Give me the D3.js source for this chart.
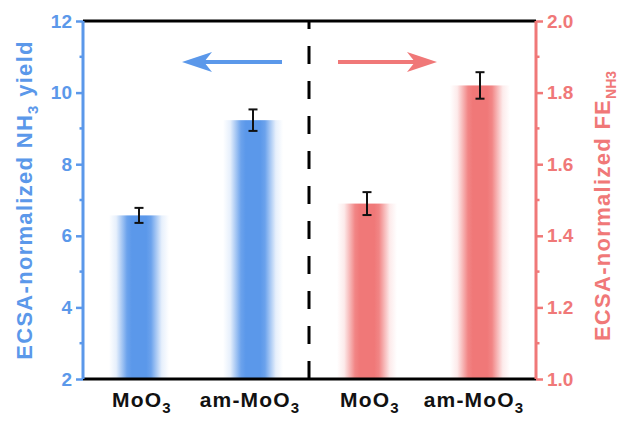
<!DOCTYPE html>
<html>
<head>
<meta charset="utf-8">
<script src="https://cdn.jsdelivr.net/npm/d3@7"></script>
<style>
  body { margin: 0; background: #fff; }
  text { font-family: "Liberation Sans", Arial, sans-serif; font-weight: bold; }
</style>
</head>
<body>
<div id="chart"></div>
<script>
// data
const categories = ['MoO3', 'am-MoO3'];
const yieldValues = [6.57, 9.23];
const yieldErrors = [0.21, 0.3];
const feValues = [1.49, 1.82];
const feErrors = [0.032, 0.037];
const leftTicks = [2, 4, 6, 8, 10, 12];
const rightTicks = [1.0, 1.2, 1.4, 1.6, 1.8, 2.0];

const width = 622, height = 423;
const margin = {top: 21, right: 86, bottom: 44, left: 83};
const blue = '#5b98ea', red = '#f07878';

const svg = d3.select('#chart').append('svg')
	.attr('width', width)
	.attr('height', height);

const x0 = margin.left, x1 = width - margin.right;
const y0 = height - margin.bottom, y1 = margin.top;

// four slots: two left (yield), two right (FE)
const x = d3.scaleBand()
	.domain(['L0', 'L1', 'R0', 'R1'])
	.range([x0, x1])
	.paddingOuter(0.2);
const xs = {L0: 139, L1: 253, R0: 367, R1: 480};     // measured bar centres
const xl = {L0: 142, L1: 250, R0: 370, R1: 474};     // measured label centres

const yL = d3.scaleLinear().domain([2, 12]).range([y0, y1]);
const yR = d3.scaleLinear().domain([1.0, 2.0]).range([y0, y1]);

// gradients for the fuzzy bars
const defs = svg.append('defs');
function grad(id, col) {
	let g = defs.append('linearGradient').attr('id', id)
		.attr('x1', '0%').attr('x2', '100%').attr('y1', '0%').attr('y2', '0%');
	[[0, 0], [0.12, 0.15], [0.3, 0.9], [0.38, 1], [0.62, 1], [0.7, 0.9], [0.88, 0.15], [1, 0]]
		.forEach(s => g.append('stop').attr('offset', s[0]).attr('stop-color', col).attr('stop-opacity', s[1]));
}
grad('gBlue', blue);
grad('gRed', red);

const barW = 60;
function centerOf(side, i, table) {
	let key = side + i;
	return table[key] !== undefined ? table[key] : x(key) + x.bandwidth() / 2;
}

function drawBars(side, values, errors, y, fill) {
	values.forEach((v, i) => {
		let cx = centerOf(side, i, xs);
		svg.append('rect')
			.attr('x', cx - barW / 2)
			.attr('y', y(v))
			.attr('width', barW)
			.attr('height', y.range()[0] - y(v))
			.attr('fill', 'url(#' + fill + ')');
		let e = svg.append('g').attr('stroke', '#111').attr('stroke-width', 2);
		e.append('line').attr('x1', cx).attr('x2', cx).attr('y1', y(v + errors[i])).attr('y2', y(v - errors[i]));
		e.append('line').attr('x1', cx - 4.5).attr('x2', cx + 4.5).attr('y1', y(v + errors[i])).attr('y2', y(v + errors[i]));
		e.append('line').attr('x1', cx - 4.5).attr('x2', cx + 4.5).attr('y1', y(v - errors[i])).attr('y2', y(v - errors[i]));
	});
}
drawBars('L', yieldValues, yieldErrors, yL, 'gBlue');
drawBars('R', feValues, feErrors, yR, 'gRed');

// dashed separator, dashes counted up from the bottom
svg.append('line')
	.attr('x1', 309).attr('x2', 309)
	.attr('y1', y0).attr('y2', y1)
	.attr('stroke', '#000').attr('stroke-width', 3)
	.attr('stroke-dasharray', '18,17');

// top and bottom frame
svg.append('line').attr('x1', x0).attr('x2', x1).attr('y1', y1).attr('y2', y1)
	.attr('stroke', '#000').attr('stroke-width', 3);
svg.append('line').attr('x1', x0).attr('x2', x1).attr('y1', y0).attr('y2', y0)
	.attr('stroke', '#000').attr('stroke-width', 3);

// left axis
const leftAxis = svg.append('g').attr('transform', 'translate(' + x0 + ',0)')
	.call(d3.axisLeft(yL).tickValues(leftTicks).tickSize(7).tickPadding(4).tickFormat(d3.format('d')));
leftAxis.select('.domain').attr('stroke', blue).attr('stroke-width', 3).attr('d', 'M0,' + y0 + 'V' + y1);
leftAxis.selectAll('.tick line').attr('stroke', blue).attr('stroke-width', 2.5);
leftAxis.selectAll('.tick text').attr('fill', blue).style('font-size', '19px');
svg.append('g').attr('transform', 'translate(' + x0 + ',0)')
	.selectAll('line').data(d3.range(3, 12, 2)).join('line')
	.attr('x1', -3.5).attr('x2', 0).attr('y1', d => yL(d)).attr('y2', d => yL(d))
	.attr('stroke', blue).attr('stroke-width', 2.5);

// right axis
const rightAxis = svg.append('g').attr('transform', 'translate(' + x1 + ',0)')
	.call(d3.axisRight(yR).tickValues(rightTicks).tickSize(7).tickPadding(4).tickFormat(d3.format('.1f')));
rightAxis.select('.domain').attr('stroke', red).attr('stroke-width', 3).attr('d', 'M0,' + y0 + 'V' + y1);
rightAxis.selectAll('.tick line').attr('stroke', red).attr('stroke-width', 2.5);
rightAxis.selectAll('.tick text').attr('fill', red).style('font-size', '19px');
svg.append('g').attr('transform', 'translate(' + x1 + ',0)')
	.selectAll('line').data(d3.range(1.1, 2.0, 0.2)).join('line')
	.attr('x1', 0).attr('x2', 3.5).attr('y1', d => yR(d)).attr('y2', d => yR(d))
	.attr('stroke', red).attr('stroke-width', 2.5);

// axis titles
const lt = svg.append('text')
	.attr('transform', 'translate(32,' + ((y0 + y1) / 2) + ') rotate(-90)')
	.attr('text-anchor', 'middle').attr('fill', blue)
	.style('font-size', '22px').style('letter-spacing', '1.3px');
lt.append('tspan').text('ECSA-normalized NH');
lt.append('tspan').text('3').attr('dy', 6).style('font-size', '15px');
lt.append('tspan').text(' yield').attr('dy', -6);

const rt = svg.append('text')
	.attr('transform', 'translate(610,' + ((y0 + y1) / 2 + 6) + ') rotate(-90)')
	.attr('text-anchor', 'middle').attr('fill', red)
	.style('font-size', '22px').style('letter-spacing', '1.3px');
rt.append('tspan').text('ECSA-normalized FE');
rt.append('tspan').text('NH3').attr('dy', 6).style('font-size', '14px').style('letter-spacing', '0px');

// category labels
['L', 'R'].forEach(side => {
	categories.forEach((c, i) => {
		let t = svg.append('text')
			.attr('x', centerOf(side, i, xl)).attr('y', 407)
			.attr('text-anchor', 'middle').attr('fill', '#111')
			.style('font-size', '21px').style('letter-spacing', '1.2px');
		t.append('tspan').text(c.replace('3', ''));
		t.append('tspan').text('3').attr('dy', 6).style('font-size', '15px');
	});
});

// direction arrows
function arrow(xa, xb, col) {
	let dir = Math.sign(xb - xa);
	svg.append('line').attr('x1', xa).attr('x2', xb - dir * 20).attr('y1', 62).attr('y2', 62)
		.attr('stroke', col).attr('stroke-width', 4);
	svg.append('path')
		.attr('d', 'M' + xb + ',62 L' + (xb - dir * 30) + ',52 L' + (xb - dir * 22) + ',62 L' + (xb - dir * 30) + ',72 Z')
		.attr('fill', col);
}
arrow(282, 182, blue);
arrow(338, 437, red);
</script>
</body>
</html>
